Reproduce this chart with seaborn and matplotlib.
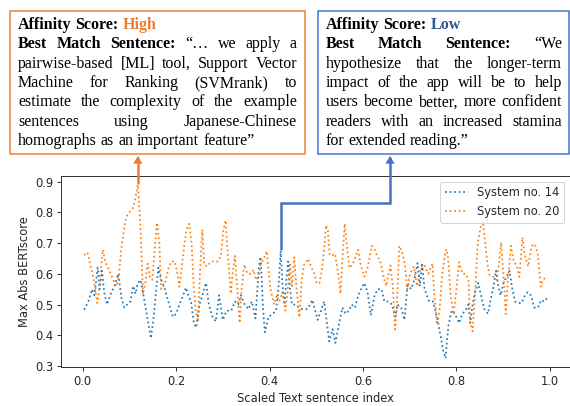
import numpy as np
import pandas as pd
import matplotlib
matplotlib.use("Agg")
import matplotlib.pyplot as plt
import matplotlib.transforms as mtransforms
from matplotlib.patches import Rectangle, FancyArrowPatch
from matplotlib.path import Path
import seaborn as sns

# --- data ---
sys14_x = [0.003, 0.012, 0.020, 0.025, 0.032, 0.036, 0.041, 0.046, 0.052, 0.060, 0.068, 0.076, 0.083, 0.089,
           0.095, 0.102, 0.108, 0.113, 0.118, 0.124, 0.130, 0.138, 0.146, 0.152, 0.158, 0.162, 0.168, 0.176,
           0.185, 0.193, 0.200, 0.207, 0.215, 0.221, 0.226, 0.232, 0.238, 0.243, 0.250, 0.258, 0.264, 0.270,
           0.278, 0.285, 0.292, 0.300, 0.308, 0.318, 0.326, 0.333, 0.339, 0.347, 0.355, 0.362, 0.370, 0.377,
           0.381, 0.386, 0.390, 0.398, 0.407, 0.414, 0.419, 0.424, 0.428, 0.432, 0.436, 0.440, 0.444, 0.448,
           0.456, 0.463, 0.471, 0.480, 0.487, 0.492, 0.498, 0.503, 0.510, 0.517, 0.522, 0.528, 0.535, 0.541,
           0.548, 0.556, 0.563, 0.570, 0.576, 0.583, 0.590, 0.596, 0.603, 0.610, 0.617, 0.625, 0.632, 0.640,
           0.646, 0.655, 0.662, 0.669, 0.674, 0.682, 0.689, 0.696, 0.703, 0.710, 0.717, 0.722, 0.727, 0.732,
           0.742, 0.750, 0.755, 0.760, 0.766, 0.772, 0.777, 0.783, 0.790, 0.797, 0.806, 0.813, 0.820, 0.826,
           0.830, 0.835, 0.840, 0.847, 0.853, 0.860, 0.868, 0.874, 0.880, 0.885, 0.890, 0.895, 0.901, 0.908,
           0.914, 0.920, 0.926, 0.932, 0.940, 0.947, 0.953, 0.960, 0.967, 0.975, 0.982, 0.988, 0.994]
sys14_y = [0.483, 0.51, 0.55, 0.53, 0.62, 0.55, 0.61, 0.54, 0.50, 0.535, 0.56, 0.60, 0.52, 0.49,
           0.50, 0.51, 0.56, 0.535, 0.57, 0.58, 0.53, 0.46, 0.39, 0.46, 0.56, 0.62, 0.58, 0.55,
           0.50, 0.46, 0.47, 0.50, 0.53, 0.555, 0.53, 0.51, 0.44, 0.425, 0.50, 0.54, 0.57, 0.50,
           0.46, 0.445, 0.53, 0.45, 0.48, 0.48, 0.51, 0.50, 0.53, 0.50, 0.485, 0.51, 0.455, 0.62,
           0.655, 0.49, 0.41, 0.46, 0.47, 0.48, 0.55, 0.675, 0.56, 0.50, 0.58, 0.64, 0.55, 0.50,
           0.50, 0.49, 0.485, 0.485, 0.50, 0.515, 0.48, 0.45, 0.48, 0.51, 0.45, 0.38, 0.42, 0.375,
           0.43, 0.49, 0.47, 0.48, 0.50, 0.49, 0.53, 0.55, 0.57, 0.54, 0.465, 0.53, 0.55, 0.55,
           0.51, 0.51, 0.50, 0.46, 0.50, 0.49, 0.45, 0.57, 0.55, 0.58, 0.635, 0.56, 0.63, 0.55,
           0.51, 0.51, 0.48, 0.45, 0.40, 0.35, 0.325, 0.43, 0.48, 0.47, 0.44, 0.47, 0.48, 0.50,
           0.44, 0.50, 0.54, 0.57, 0.53, 0.485, 0.47, 0.52, 0.56, 0.61, 0.56, 0.53, 0.57, 0.59,
           0.61, 0.55, 0.51, 0.505, 0.505, 0.53, 0.54, 0.53, 0.49, 0.49, 0.515, 0.51, 0.52]

sys20_x = [0.003, 0.010, 0.016, 0.021, 0.027, 0.031, 0.035, 0.039, 0.043, 0.048, 0.054, 0.060, 0.067, 0.073,
           0.078, 0.082, 0.088, 0.093, 0.100, 0.107, 0.112, 0.118, 0.122, 0.125, 0.129, 0.134, 0.139, 0.144,
           0.149, 0.154, 0.159, 0.164, 0.168, 0.173, 0.178, 0.184, 0.190, 0.197, 0.203, 0.207, 0.212, 0.218,
           0.223, 0.228, 0.233, 0.238, 0.242, 0.247, 0.251, 0.256, 0.260, 0.267, 0.274, 0.282, 0.289, 0.296,
           0.301, 0.306, 0.311, 0.317, 0.321, 0.326, 0.331, 0.336, 0.340, 0.346, 0.353, 0.360, 0.366, 0.371,
           0.376, 0.381, 0.388, 0.394, 0.398, 0.402, 0.410, 0.415, 0.421, 0.427, 0.434, 0.438, 0.444, 0.448,
           0.453, 0.458, 0.464, 0.469, 0.474, 0.479, 0.483, 0.490, 0.496, 0.501, 0.507, 0.513, 0.518, 0.521,
           0.525, 0.529, 0.534, 0.540, 0.545, 0.548, 0.552, 0.556, 0.561, 0.565, 0.571, 0.578, 0.585, 0.590,
           0.595, 0.603, 0.610, 0.619, 0.625, 0.630, 0.637, 0.646, 0.650, 0.655, 0.659, 0.664, 0.669, 0.673,
           0.678, 0.684, 0.690, 0.695, 0.701, 0.709, 0.716, 0.724, 0.731, 0.740, 0.749, 0.753, 0.759, 0.764,
           0.770, 0.778, 0.782, 0.788, 0.794, 0.799, 0.806, 0.813, 0.820, 0.826, 0.830, 0.835, 0.840, 0.846,
           0.852, 0.857, 0.862, 0.867, 0.871, 0.880, 0.887, 0.892, 0.896, 0.900, 0.903, 0.906, 0.910, 0.917,
           0.923, 0.930, 0.935, 0.942, 0.947, 0.954, 0.960, 0.964, 0.970, 0.975, 0.981, 0.986, 0.992]
sys20_y = [0.661, 0.67, 0.63, 0.60, 0.55, 0.505, 0.54, 0.62, 0.678, 0.64, 0.62, 0.60, 0.574, 0.56,
           0.60, 0.674, 0.74, 0.785, 0.80, 0.813, 0.84, 0.89, 0.80, 0.70, 0.533, 0.57, 0.633, 0.59,
           0.58, 0.68, 0.767, 0.70, 0.55, 0.56, 0.58, 0.62, 0.641, 0.64, 0.60, 0.558, 0.62, 0.70,
           0.747, 0.763, 0.70, 0.55, 0.48, 0.444, 0.60, 0.744, 0.63, 0.624, 0.64, 0.64, 0.64, 0.658,
           0.741, 0.774, 0.66, 0.535, 0.60, 0.658, 0.55, 0.44, 0.547, 0.63, 0.60, 0.60, 0.613, 0.58,
           0.59, 0.63, 0.65, 0.674, 0.61, 0.55, 0.50, 0.53, 0.51, 0.54, 0.48, 0.53, 0.63, 0.56,
           0.654, 0.55, 0.458, 0.58, 0.63, 0.64, 0.649, 0.62, 0.60, 0.569, 0.57, 0.62, 0.70, 0.758,
           0.74, 0.66, 0.66, 0.665, 0.62, 0.59, 0.535, 0.64, 0.763, 0.70, 0.619, 0.63, 0.66, 0.678,
           0.63, 0.591, 0.62, 0.691, 0.68, 0.66, 0.641, 0.58, 0.56, 0.60, 0.627, 0.56, 0.419, 0.50,
           0.691, 0.67, 0.63, 0.55, 0.60, 0.624, 0.56, 0.619, 0.63, 0.60, 0.633, 0.53, 0.435, 0.48,
           0.60, 0.68, 0.66, 0.53, 0.469, 0.53, 0.638, 0.60, 0.60, 0.58, 0.44, 0.413, 0.53, 0.70,
           0.75, 0.77, 0.70, 0.63, 0.597, 0.59, 0.58, 0.64, 0.702, 0.62, 0.55, 0.469, 0.57, 0.691,
           0.64, 0.624, 0.59, 0.719, 0.66, 0.624, 0.68, 0.697, 0.69, 0.66, 0.558, 0.58, 0.59]

series_names = ["System no. 14", "System no. 20"]

high_lines = [
    [("Affinity", "bold", "k"), ("Score:", "bold", "k"), ("High", "bold", "#ED7D31")],
    "Best Match Sentence: “… we apply a",
    "pairwise-based [ML] tool, Support Vector",
    "Machine for Ranking (SVMrank) to",
    "estimate the complexity of the example",
    "sentences using Japanese-Chinese",
    "homographs as an important feature”",
]
low_lines = [
    [("Affinity", "bold", "k"), ("Score:", "bold", "k"), ("Low", "bold", "#2F5597")],
    "Best Match Sentence: “We",
    "hypothesize that the longer-term",
    "impact of the app will be to help",
    "users become better, more confident",
    "readers with an increased stamina",
    "for extended reading.”",
]

W, H, DPI = 570, 406, 72
S = 1.15  # the reference looks like a scaled-up 10pt figure
BLUE, ORANGE = "#1f77b4", "#ff7f0e"
BOX_ORANGE, BOX_BLUE = "#ED7D31", "#4472C4"

sns.set_style("ticks")
plt.rcParams["font.family"] = ["DejaVu Sans"]
plt.rcParams.update({
    "font.size": 10 * S,
    "axes.linewidth": 0.8 * S,
    "xtick.major.size": 3.5 * S,
    "ytick.major.size": 3.5 * S,
    "xtick.major.width": 0.8 * S,
    "ytick.major.width": 0.8 * S,
})

fig = plt.figure(figsize=(W / DPI, H / DPI), dpi=DPI)
ax = fig.add_axes([61 / W, 39 / H, (W - 61) / W, 191 / H])

df14 = pd.DataFrame({"x": sys14_x, "score": sys14_y})
df20 = pd.DataFrame({"x": sys20_x, "score": sys20_y})
sns.lineplot(data=df14, x="x", y="score", ax=ax, color=BLUE, linestyle=":", linewidth=1.5 * S, label=series_names[0])
sns.lineplot(data=df20, x="x", y="score", ax=ax, color=ORANGE, linestyle=":", linewidth=1.5 * S, label=series_names[1])
ax.set_xlabel("Scaled Text sentence index")
ax.set_ylabel("Max Abs BERTscore")
ax.legend(loc="upper right", fontsize=10 * S)
ax.set_xticks([0.0, 0.2, 0.4, 0.6, 0.8, 1.0])
ax.set_yticks([0.3, 0.4, 0.5, 0.6, 0.7, 0.8, 0.9])

fig.canvas.draw()
renderer = fig.canvas.get_renderer()
pix = mtransforms.IdentityTransform()


def top(py):
    # pixel row from the top -> display y
    return H - py


def draw_box(lines, x0, x1, first_base, gap, size):
    space = 0.25 * size
    for i, line in enumerate(lines):
        if isinstance(line, str):
            words = line.split(" ")
            toks = []
            bold = "Sentence:" in line
            for w in words:
                toks.append((w, "bold" if bold else "normal", "k"))
                if w == "Sentence:":
                    bold = False
        else:
            toks = line
        y = top(first_base + i * gap)
        texts = [fig.text(0, y, w, transform=pix, fontsize=size, family="Liberation Serif",
                          fontweight=fw, color=c, va="baseline", ha="left") for w, fw, c in toks]
        widths = [t.get_window_extent(renderer).width for t in texts]
        justify = 0 < i < len(lines) - 1
        if justify and len(texts) > 1:
            sp = (x1 - x0 - sum(widths)) / (len(texts) - 1)
        else:
            sp = space
        x = x0
        for t, w in zip(texts, widths):
            t.set_x(x)
            x += w + sp


def rect(x0, y0, x1, y1, color):
    fig.add_artist(Rectangle((x0, top(y1)), x1 - x0, y1 - y0, transform=pix,
                             fill=False, edgecolor=color, linewidth=1.5))


rect(10, 11, 305, 154, BOX_ORANGE)
rect(318, 11, 569, 154, BOX_BLUE)
draw_box(high_lines, 18, 297, 29, 19.3, 16)
draw_box(low_lines, 326, 562, 29, 19.3, 16)

# arrows from the chosen sentences to the boxes
hi = int(np.argmax(sys20_y))
lo = int(np.argmax(sys14_y))
hx, hy = ax.transData.transform((sys20_x[hi], sys20_y[hi]))
lx, ly = ax.transData.transform((sys14_x[lo], sys14_y[lo]))

p_high = Path([(hx, hy + 2), (hx, top(156))])
p_low = Path([(lx, ly + 2), (lx, top(203)), (390, top(203)), (390, top(156))])
for p, c in [(p_high, BOX_ORANGE), (p_low, BOX_BLUE)]:
    fig.add_artist(FancyArrowPatch(path=p, transform=pix, arrowstyle="-|>,head_length=0.5,head_width=0.3",
                                   mutation_scale=8, color=c, linewidth=2.5, joinstyle="miter"))

fig.savefig("out.png", dpi=DPI)
